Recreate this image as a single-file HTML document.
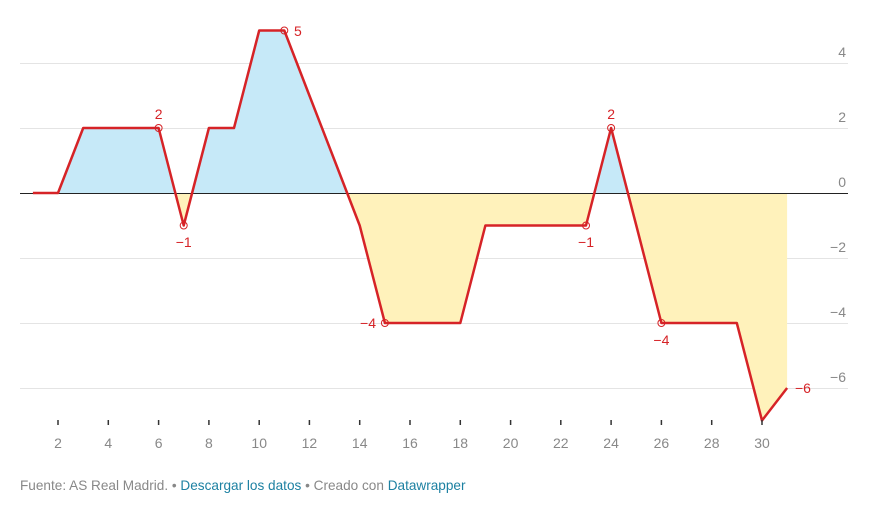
<!DOCTYPE html>
<html><head><meta charset="utf-8"><style>
body{margin:0;background:#fff;width:871px;height:515px;overflow:hidden;font-family:"Liberation Sans",sans-serif}
</style></head><body>
<svg width="871" height="515" xmlns="http://www.w3.org/2000/svg" font-family="Liberation Sans, sans-serif">
<defs>
<clipPath id="up"><rect x="0" y="0" width="871" height="193"/></clipPath>
<clipPath id="dn"><rect x="0" y="193" width="871" height="300"/></clipPath>
</defs>
<g stroke="#e4e4e4" stroke-width="1">
<line x1="20" x2="848" y1="63.5" y2="63.5"/><line x1="20" x2="848" y1="128.5" y2="128.5"/>
<line x1="20" x2="848" y1="258.5" y2="258.5"/><line x1="20" x2="848" y1="323.5" y2="323.5"/>
<line x1="20" x2="848" y1="388.5" y2="388.5"/>
</g>
<g font-size="14" fill="#888" text-anchor="end">
<text x="846" y="57">4</text><text x="846" y="122">2</text><text x="846" y="187">0</text>
<text x="846" y="252">−2</text><text x="846" y="317">−4</text><text x="846" y="382">−6</text>
</g>
<polygon points="32.9,193 58,193 83.2,128 108.3,128 133.5,128 158.6,128 183.7,225.5 208.9,128 234,128 259.2,30.5 284.3,30.5 309.4,95.5 334.6,160.5 359.7,225.5 384.9,323 410,323 435.1,323 460.3,323 485.4,225.5 510.6,225.5 535.7,225.5 560.8,225.5 586,225.5 611.1,128 636.3,225.5 661.4,323 686.5,323 711.7,323 736.8,323 762,420.5 787.1,388 787.1,193" fill="#c6e9f8" clip-path="url(#up)"/>
<polygon points="32.9,193 58,193 83.2,128 108.3,128 133.5,128 158.6,128 183.7,225.5 208.9,128 234,128 259.2,30.5 284.3,30.5 309.4,95.5 334.6,160.5 359.7,225.5 384.9,323 410,323 435.1,323 460.3,323 485.4,225.5 510.6,225.5 535.7,225.5 560.8,225.5 586,225.5 611.1,128 636.3,225.5 661.4,323 686.5,323 711.7,323 736.8,323 762,420.5 787.1,388 787.1,193" fill="#fff2bb" clip-path="url(#dn)"/>
<line x1="20" x2="848" y1="193.5" y2="193.5" stroke="#222" stroke-width="1"/>
<polyline points="32.9,193 58,193 83.2,128 108.3,128 133.5,128 158.6,128 183.7,225.5 208.9,128 234,128 259.2,30.5 284.3,30.5 309.4,95.5 334.6,160.5 359.7,225.5 384.9,323 410,323 435.1,323 460.3,323 485.4,225.5 510.6,225.5 535.7,225.5 560.8,225.5 586,225.5 611.1,128 636.3,225.5 661.4,323 686.5,323 711.7,323 736.8,323 762,420.5 787.1,388" fill="none" stroke="#d62327" stroke-width="2.5" stroke-linejoin="round"/>
<g fill="none" stroke="#d62327" stroke-width="1">
<circle cx="158.6" cy="128" r="3.5"/><circle cx="183.7" cy="225.5" r="3.5"/><circle cx="284.3" cy="30.5" r="3.5"/>
<circle cx="384.9" cy="323" r="3.5"/><circle cx="586" cy="225.5" r="3.5"/><circle cx="611.1" cy="128" r="3.5"/><circle cx="661.4" cy="323" r="3.5"/>
</g>
<g font-size="14" fill="#d62327">
<text x="158.6" y="119" text-anchor="middle">2</text>
<text x="183.7" y="247" text-anchor="middle">−1</text>
<text x="294" y="36">5</text>
<text x="376" y="328" text-anchor="end">−4</text>
<text x="586" y="247" text-anchor="middle">−1</text>
<text x="611.1" y="119" text-anchor="middle">2</text>
<text x="661.4" y="345" text-anchor="middle">−4</text>
<text x="795" y="393">−6</text>
</g>
<g stroke="#333" stroke-width="1.5">
<line x1="58" x2="58" y1="420" y2="425"/><line x1="108.3" x2="108.3" y1="420" y2="425"/><line x1="158.6" x2="158.6" y1="420" y2="425"/>
<line x1="208.9" x2="208.9" y1="420" y2="425"/><line x1="259.2" x2="259.2" y1="420" y2="425"/><line x1="309.4" x2="309.4" y1="420" y2="425"/>
<line x1="359.7" x2="359.7" y1="420" y2="425"/><line x1="410" x2="410" y1="420" y2="425"/><line x1="460.3" x2="460.3" y1="420" y2="425"/>
<line x1="510.6" x2="510.6" y1="420" y2="425"/><line x1="560.8" x2="560.8" y1="420" y2="425"/><line x1="611.1" x2="611.1" y1="420" y2="425"/>
<line x1="661.4" x2="661.4" y1="420" y2="425"/><line x1="711.7" x2="711.7" y1="420" y2="425"/><line x1="762" x2="762" y1="420" y2="425"/>
</g>
<g font-size="14" fill="#888" text-anchor="middle">
<text x="58" y="448">2</text><text x="108.3" y="448">4</text><text x="158.6" y="448">6</text><text x="208.9" y="448">8</text>
<text x="259.2" y="448">10</text><text x="309.4" y="448">12</text><text x="359.7" y="448">14</text><text x="410" y="448">16</text>
<text x="460.3" y="448">18</text><text x="510.6" y="448">20</text><text x="560.8" y="448">22</text><text x="611.1" y="448">24</text>
<text x="661.4" y="448">26</text><text x="711.7" y="448">28</text><text x="762" y="448">30</text>
</g>
<text x="20" y="490" font-size="13.6" fill="#888">Fuente: AS Real Madrid. • <tspan fill="#1d81a2">Descargar los datos</tspan> • Creado con <tspan fill="#1d81a2">Datawrapper</tspan></text>
</svg>
</body></html>
